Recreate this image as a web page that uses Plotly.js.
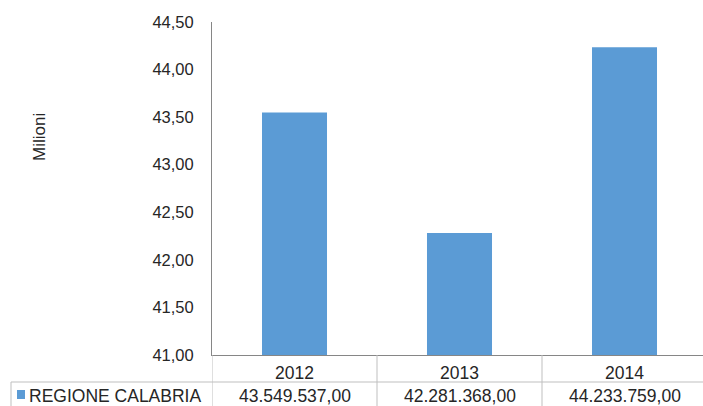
<!DOCTYPE html>
<html>
<head>
<meta charset="utf-8">
<script src="https://cdn.plot.ly/plotly-3.0.1.min.js"></script>
<style>
html,body{margin:0;padding:0;overflow:hidden;background:#fff;}
#chart{width:703px;height:406px;}
</style>
</head>
<body>
<div id="chart"></div>
<script>
const categories = ["2012", "2013", "2014"];
const seriesName = "REGIONE CALABRIA";
const values = [43549537.00, 42281368.00, 44233759.00];
const yTickVals = [41, 41.5, 42, 42.5, 43, 43.5, 44, 44.5];

const millions = values.map(v => v / 1e6);
function fmtIt(v) {
  const parts = v.toFixed(2).split(".");
  const intPart = parts[0].replace(/\B(?=(\d{3})+(?!\d))/g, ".");
  return intPart + "," + parts[1];
}

const W = 703, H = 406;
const mL = 212, mR = 0, mT = 22, mB = 51;
const plotW = W - mL - mR, plotH = H - mT - mB;
const colPx = 165;
const xMax = -0.5 + plotW / colPx;
const px2paperX = p => (p - mL) / plotW;
const px2paperY = p => (H - mB - p) / plotH;

const font = "Liberation Sans, Arial, sans-serif";
const txtColor = "#262626";
const gridCol = "#bfbfbf";
const barCol = "#5b9bd5";
const tblSize = 17.5;

const trace = {
  type: "bar",
  x: categories.map((c, i) => i),
  y: millions,
  base: 0,
  marker: { color: barCol },
  name: seriesName,
  hoverinfo: "none"
};

const shapes = [];
const annotations = [];
for (let i = 0; i <= categories.length; i++) {
  const xv = i - 0.5;
  shapes.push({ type: "line", xref: "x", yref: "paper", x0: xv, x1: xv,
    y0: 0, y1: px2paperY(H + 2), line: { color: gridCol, width: 1 } });
}
shapes.push({ type: "line", xref: "paper", yref: "paper", x0: px2paperX(11), x1: 1.02,
  y0: px2paperY(382), y1: px2paperY(382), line: { color: gridCol, width: 1 } });
shapes.push({ type: "line", xref: "paper", yref: "paper", x0: px2paperX(11), x1: px2paperX(11),
  y0: px2paperY(382), y1: px2paperY(H + 2), line: { color: gridCol, width: 1 } });
shapes.push({ type: "rect", xref: "paper", yref: "paper", x0: px2paperX(17), x1: px2paperX(25),
  y0: px2paperY(399), y1: px2paperY(390), line: { width: 0 }, fillcolor: barCol });

categories.forEach((c, i) => {
  annotations.push({ xref: "x", yref: "paper", x: i, y: px2paperY(373), yanchor: "middle", text: c,
    showarrow: false, font: { family: font, size: tblSize, color: txtColor } });
  annotations.push({ xref: "x", yref: "paper", x: i, y: px2paperY(396.5), yanchor: "middle", text: fmtIt(values[i]),
    showarrow: false, font: { family: font, size: tblSize, color: txtColor } });
});
annotations.push({ xref: "paper", yref: "paper", x: px2paperX(27), xanchor: "left", y: px2paperY(396.5), yanchor: "middle",
  text: seriesName, showarrow: false, font: { family: font, size: tblSize, color: txtColor } });
annotations.push({ xref: "paper", yref: "paper", x: px2paperX(39), y: px2paperY(137), xanchor: "center", yanchor: "middle",
  text: "Milioni", textangle: -90, showarrow: false, font: { family: font, size: 17, color: txtColor } });

const layout = {
  width: W, height: H,
  margin: { l: mL, r: mR, t: mT, b: mB, pad: 0 },
  paper_bgcolor: "#fff", plot_bgcolor: "#fff",
  showlegend: false,
  bargap: 0.606,
  separators: ",.",
  font: { family: font, size: 16, color: txtColor },
  xaxis: {
    range: [-0.5, xMax], showticklabels: false, ticks: "", showgrid: false, zeroline: false,
    showline: true, linecolor: "#868686", linewidth: 1, fixedrange: true
  },
  yaxis: {
    range: [41, 44.5], tickvals: yTickVals, tickformat: ".2f", showgrid: false, zeroline: false,
    showline: true, linecolor: "#868686", linewidth: 1, ticks: "", ticklabelstandoff: 14,
    tickfont: { family: font, size: 16.5, color: txtColor }, fixedrange: true
  },
  shapes: shapes,
  annotations: annotations
};

Plotly.newPlot("chart", [trace], layout, { staticPlot: true, displayModeBar: false });
</script>
</body>
</html>
